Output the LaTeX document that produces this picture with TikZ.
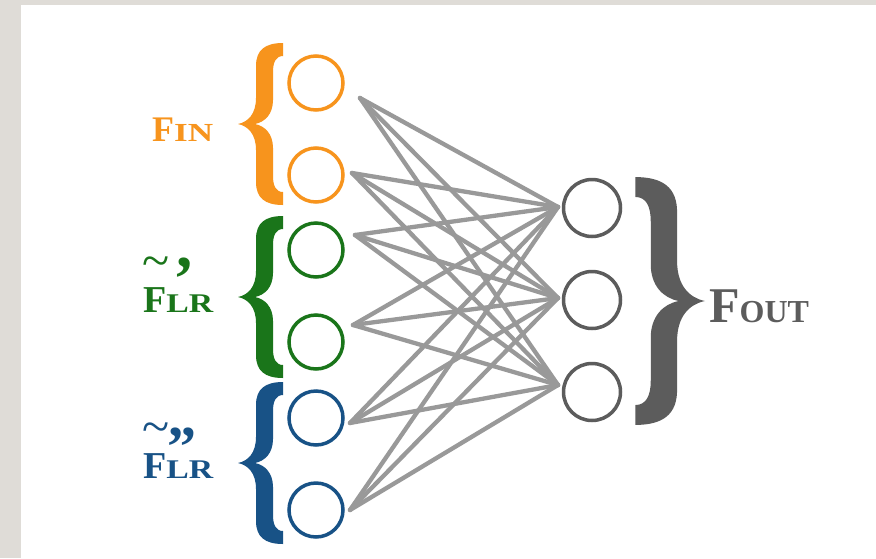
\documentclass[tikz,border=0pt]{standalone}
\usepackage{fontspec}
\setmainfont{Liberation Serif}
\usepackage{graphicx}

\definecolor{frameC}{RGB}{223,220,215}
\definecolor{orangeC}{RGB}{247,148,29}
\definecolor{greenC}{RGB}{26,117,26}
\definecolor{blueC}{RGB}{24,82,134}
\definecolor{darkC}{RGB}{92,92,92}
\definecolor{lineC}{RGB}{153,153,153}

% F with a small-caps style subscript
\newcommand{\fsub}[4]{{\fontsize{#1}{#1}\selectfont F}{\fontsize{#2}{#2}\selectfont\scalebox{#4}[1]{#3}}}
% F with a tilde above, primes (text, size, shift) and the LR subscript
\newcommand{\ftilde}[3]{%
  \rlap{\raisebox{35pt}{\fontsize{50}{50}\selectfont\mdseries\hspace{-1pt}\char"7E}}%
  {\fontsize{38}{38}\selectfont F}%
  \rlap{\hspace{#3}\raisebox{12pt}{\fontsize{#2}{#2}\selectfont #1}}%
  {\fontsize{27}{27}\selectfont\scalebox{1.25}[1]{LR}}}

\tikzset{
  neuron/.style={circle, draw, line width=3.5pt, minimum size=54pt, inner sep=0pt},
  outneuron/.style={neuron, minimum size=57pt},
  link/.style={draw=lineC, line width=4.3pt, line cap=round},
  label/.style={anchor=base west, inner sep=0pt, font=\bfseries},
  pics/curly/.style={code={
    \fill (45,-81) .. controls (27,-81) and (18,-74) .. (18,-58) -- (18,-26)
      .. controls (18,-10) and (10,-2) .. (0,0)
      .. controls (10,2) and (18,10) .. (18,26) -- (18,58)
      .. controls (18,74) and (27,81) .. (45,81) -- (45,68)
      .. controls (38,68) and (35,62) .. (35,52) -- (35,24)
      .. controls (35,10) and (27,2) .. (17,0)
      .. controls (27,-2) and (35,-10) .. (35,-24) -- (35,-52)
      .. controls (35,-62) and (38,-68) .. (45,-68) -- cycle;
  }}
}

\begin{document}
\begin{tikzpicture}[x=1pt, y=-1pt]
  \useasboundingbox (0,0) rectangle (876,558);
  \fill[frameC] (0,0) rectangle (876,558);
  \fill[white] (21,5) rectangle (876,558);

  % input layer
  \node[neuron, draw=orangeC] (i1) at (316,83) {};
  \node[neuron, draw=orangeC] (i2) at (316,175) {};
  \node[neuron, draw=greenC]  (i3) at (316,250) {};
  \node[neuron, draw=greenC]  (i4) at (316,342) {};
  \node[neuron, draw=blueC]   (i5) at (316,418) {};
  \node[neuron, draw=blueC]   (i6) at (316,510) {};

  % output layer
  \node[outneuron, draw=darkC] (o1) at (592,208) {};
  \node[outneuron, draw=darkC] (o2) at (592,300) {};
  \node[outneuron, draw=darkC] (o3) at (592,392) {};

  % connection ends
  \coordinate (a1) at (360,98);
  \coordinate (a2) at (352,173);
  \coordinate (a3) at (355,235);
  \coordinate (a4) at (353,325);
  \coordinate (a5) at (350,423);
  \coordinate (a6) at (350,510);
  \coordinate (b1) at (558,207);
  \coordinate (b2) at (558,298);
  \coordinate (b3) at (558,385);

  \foreach \s in {a1,a2,a3,a4,a5,a6}
    \foreach \t in {b1,b2,b3}
      \draw[link] (\s) -- (\t);

  % braces
  \pic[color=orangeC] at (238,124) {curly};
  \pic[color=greenC]  at (238,297) {curly};
  \pic[color=blueC]   at (238,463) {curly};
  \pic[color=darkC, xscale=-1.55, yscale=1.53] at (705,301) {curly};

  % labels
  \node[label, text=orangeC] (lin) at (152,141) {\fsub{36}{26}{IN}{1.35}};
  \node[label, text=greenC]  (llr1) at (143,312) {\ftilde{’}{64}{7pt}};
  \node[label, text=blueC]   (llr2) at (143,478) {\ftilde{”}{58}{1pt}};
  \node[label, text=darkC]   (lout) at (709,322) {\fsub{50}{32}{OUT}{1}};
\end{tikzpicture}
\end{document}
